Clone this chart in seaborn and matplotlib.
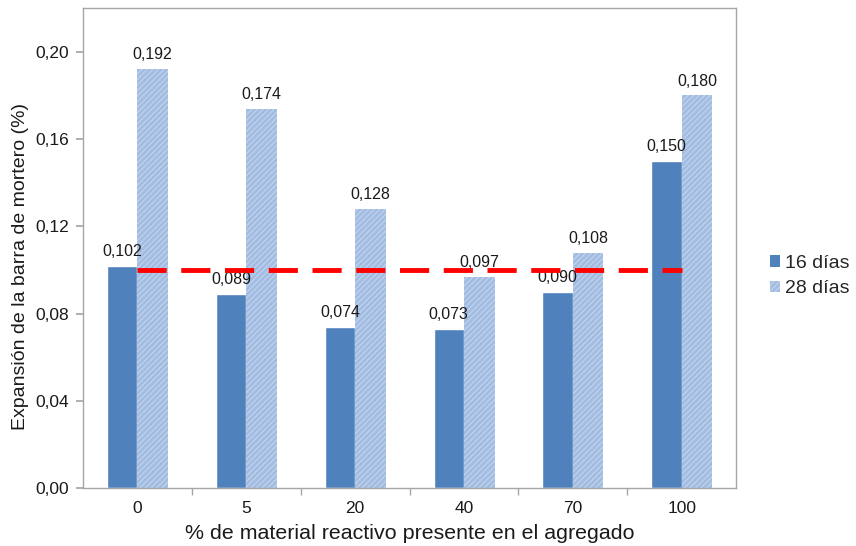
import matplotlib
matplotlib.use("Agg")
import matplotlib.pyplot as plt
import seaborn as sns
import pandas as pd

# Mortar bar expansion data
categories = ["0", "5", "20", "40", "70", "100"]
dias_16 = [0.102, 0.089, 0.074, 0.073, 0.090, 0.150]
dias_28 = [0.192, 0.174, 0.128, 0.097, 0.108, 0.180]
series_names = ["16 días", "28 días"]
limit_value = 0.10
y_ticks = [0.00, 0.04, 0.08, 0.12, 0.16, 0.20]

df = pd.DataFrame({
    "material": categories * 2,
    "expansion": dias_16 + dias_28,
    "serie": [series_names[0]] * len(categories) + [series_names[1]] * len(categories),
})

sns.set_theme(style="white")
plt.rcParams["font.family"] = ["Liberation Sans", "DejaVu Sans"]
plt.rcParams["hatch.linewidth"] = 0.6

fig = plt.figure(figsize=(8.56, 5.46), dpi=100)
ax = fig.add_axes([0.097, 0.106, 0.763, 0.879])

palette = {series_names[0]: "#4F81BD", series_names[1]: "#A3BDE2"}
sns.barplot(data=df, x="material", y="expansion", hue="serie", order=categories,
            hue_order=series_names, palette=palette, width=0.56, saturation=1,
            ax=ax, legend=True)

# Fine diagonal hatch on the 28-day bars
for patch in ax.containers[1]:
    patch.set_hatch("//////")
    patch.set_edgecolor("#CBDAEF")
    patch.set_linewidth(0)

for container in ax.containers:
    ax.bar_label(container, labels=[f"{v:.3f}".replace(".", ",") for v in container.datavalues],
                 padding=5, fontsize=11.5, color="#1a1a1a")

# Reference expansion limit
ax.hlines(limit_value, 0, len(categories) - 1, colors="#FF0000", linestyles=(0, (6, 3)),
          linewidth=3.5, zorder=5)

ax.set_ylim(0, 0.22)
ax.set_yticks(y_ticks)
ax.set_yticklabels([f"{t:.2f}".replace(".", ",") for t in y_ticks], fontsize=12.5, color="#1a1a1a")
ax.set_xticks(range(len(categories)))
ax.set_xticklabels(categories, fontsize=12.5, color="#1a1a1a")
ax.set_xlim(-0.5, len(categories) - 0.5)

ax.set_xlabel("% de material reactivo presente en el agregado", fontsize=15.4, color="#1a1a1a", labelpad=6)
ax.set_ylabel("Expansión de la barra de mortero (%)", fontsize=14, color="#1a1a1a")
ax.yaxis.set_label_coords(-0.083, 0.4625)

for side in ["left", "right", "top", "bottom"]:
    ax.spines[side].set_color("#A6A6A6")
    ax.spines[side].set_linewidth(1)

# Ticks: outward on y, boundary ticks between category groups on x
ax.tick_params(axis="y", which="major", direction="out", length=5, color="#A6A6A6", left=True, pad=5)
ax.tick_params(axis="x", which="major", length=0, pad=9)
ax.set_xticks([i + 0.5 for i in range(len(categories) - 1)], minor=True)
ax.tick_params(axis="x", which="minor", direction="out", length=5, color="#A6A6A6", bottom=True)

leg = ax.legend(loc="center left", bbox_to_anchor=(1.0245, 0.442), frameon=False,
                borderaxespad=0.5, fontsize=14, handlelength=0.55, handleheight=0.55,
                handletextpad=0.25, labelspacing=0.45)
for h in leg.legend_handles:
    h.set_linewidth(0)
leg.legend_handles[1].set_hatch("//////")
leg.legend_handles[1].set_edgecolor("#CBDAEF")

fig.savefig("out.png", dpi=100)
